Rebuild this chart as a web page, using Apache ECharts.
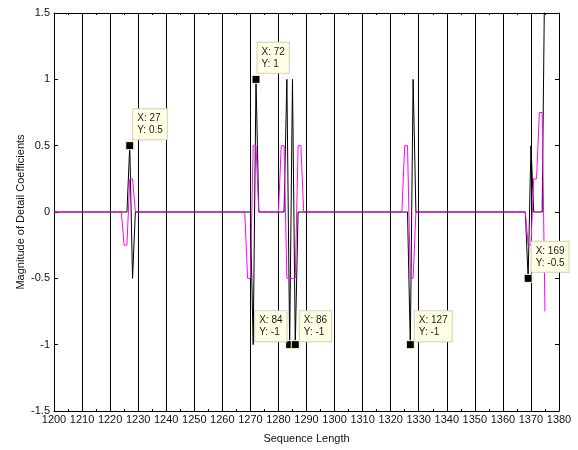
<!DOCTYPE html>
<html>
<head>
<meta charset="utf-8">
<script src="https://cdn.jsdelivr.net/npm/echarts@6/dist/echarts.min.js"></script>
<style>
html,body{margin:0;padding:0;background:#fff;}
#chart{width:578px;height:450px;}
</style>
</head>
<body>
<div id="chart"></div>
<script>
// Sequence offset: datatip X values are sample indices, axis shows 1200 + index
var seqOffset = 1200;

// Detail coefficients (black) — breakpoints of the polyline
var detailX = [1200, 1226, 1227, 1228, 1229, 1270, 1271, 1272, 1273, 1282, 1283, 1284, 1285, 1286, 1287, 1326, 1327, 1328, 1329, 1368, 1369, 1370, 1371, 1374, 1375];
var detailY = [0, 0, 0.5, -0.5, 0, 0, -1, 1, 0, 0, 1, -1, 1, -1, 0, 0, -1, 1, 0, 0, -0.5, 0.5, 0, 0, 2];

// Second-level coefficients (magenta) — breakpoints of the polyline
var levelX = [1200, 1224, 1225, 1226, 1227, 1228, 1229, 1268, 1269, 1270, 1271, 1272, 1273, 1280, 1281, 1282, 1283, 1286, 1287, 1288, 1289, 1324, 1325, 1326, 1327, 1328, 1329, 1368, 1369, 1370, 1371, 1372, 1373, 1374, 1375];
var levelY = [0, 0, -0.25, -0.25, 0.25, 0.25, 0, 0, -0.5, -0.5, 0.5, 0.5, 0, 0, 0.5, 0.5, -0.5, -0.5, 0.5, 0.5, 0, 0, 0.5, 0.5, -0.5, -0.5, 0, 0, -0.25, -0.25, 0.25, 0.25, 0.75, 0.75, -0.75];

// Data tips
var tipX = [27, 72, 84, 86, 127, 169];
var tipY = [0.5, 1, -1, -1, -1, -0.5];
var tipLabelOffset = [[8, -32], [6, -32], [-30, -29], [9, -29], [9, -29], [8, -32]];

var FONT = "'Liberation Sans', Arial, sans-serif";

function pairs(xs, ys) {
  var out = [];
  for (var i = 0; i < xs.length; i++) out.push([xs[i], ys[i]]);
  return out;
}

var tipData = [];
for (var i = 0; i < tipX.length; i++) {
  tipData.push({
    value: [seqOffset + tipX[i], tipY[i]],
    label: {
      show: true,
      position: tipLabelOffset[i],
      formatter: 'X: ' + tipX[i] + '\nY: ' + tipY[i]
    }
  });
}

var chart = echarts.init(document.getElementById('chart'), null, {renderer: 'canvas'});
chart.setOption({
  animation: false,
  backgroundColor: '#ffffff',
  grid: {left: 54, right: 19, top: 13, bottom: 39, containLabel: false},
  xAxis: [{
    type: 'value', min: 1200, max: 1380, interval: 10,
    position: 'bottom',
    name: 'Sequence Length', nameLocation: 'middle', nameGap: 22,
    nameTextStyle: {fontFamily: FONT, fontSize: 11, color: '#111'},
    axisLine: {show: true, onZero: false, lineStyle: {color: '#000', width: 1}},
    axisTick: {show: true, inside: true, length: 4, lineStyle: {color: '#000'}},
    minorTick: {show: true, splitNumber: 2, length: 2, lineStyle: {color: '#000'}},
    axisLabel: {fontFamily: FONT, fontSize: 11, color: '#111', margin: 3,
      formatter: function (v) { return String(v); }},
    splitLine: {show: true, lineStyle: {color: '#000', width: 1}}
  }, {
    type: 'value', min: 1200, max: 1380, interval: 10,
    position: 'top',
    axisLine: {show: true, onZero: false, lineStyle: {color: '#000', width: 1}},
    axisTick: {show: true, inside: true, length: 4, lineStyle: {color: '#000'}},
    minorTick: {show: true, splitNumber: 2, length: 2, lineStyle: {color: '#000'}},
    axisLabel: {show: false},
    splitLine: {show: false}
  }],
  yAxis: [{
    type: 'value', min: -1.5, max: 1.5, interval: 0.5,
    position: 'left',
    name: 'Magnitude of Detail Coefficients', nameLocation: 'middle', nameGap: 28,
    nameMoveOverlap: false,
    nameTextStyle: {fontFamily: FONT, fontSize: 11, color: '#111'},
    axisLine: {show: true, onZero: false, lineStyle: {color: '#000', width: 1}},
    axisTick: {show: true, inside: true, length: 4, lineStyle: {color: '#000'}},
    axisLabel: {fontFamily: FONT, fontSize: 11, color: '#111', margin: 4,
      formatter: function (v) { return String(v); }},
    splitLine: {show: false}
  }, {
    type: 'value', min: -1.5, max: 1.5, interval: 0.5,
    position: 'right',
    axisLine: {show: true, onZero: false, lineStyle: {color: '#000', width: 1}},
    axisTick: {show: true, inside: true, length: 4, lineStyle: {color: '#000'}},
    axisLabel: {show: false},
    splitLine: {show: false}
  }],
  series: [{
    type: 'line', name: 'detail', xAxisIndex: 0, yAxisIndex: 0,
    data: pairs(detailX, detailY),
    showSymbol: false, symbol: 'none', clip: true,
    lineStyle: {color: '#000', width: 1}, z: 2
  }, {
    type: 'line', name: 'level', xAxisIndex: 0, yAxisIndex: 0,
    data: pairs(levelX, levelY),
    showSymbol: false, symbol: 'none', clip: true,
    lineStyle: {color: '#ff00ff', width: 1}, z: 3
  }, {
    type: 'scatter', name: 'tips', xAxisIndex: 0, yAxisIndex: 0,
    data: tipData,
    symbol: 'rect', symbolSize: 8,
    itemStyle: {color: '#000', borderColor: '#ffffc8', borderWidth: 1, opacity: 1},
    label: {
      fontFamily: FONT, fontSize: 10, lineHeight: 12, color: '#222',
      backgroundColor: '#ffffe6', borderColor: '#cfcfb8', borderWidth: 1,
      padding: [3, 4, 3, 4], align: 'left', verticalAlign: 'top'
    },
    z: 5
  }]
});
</script>
</body>
</html>
